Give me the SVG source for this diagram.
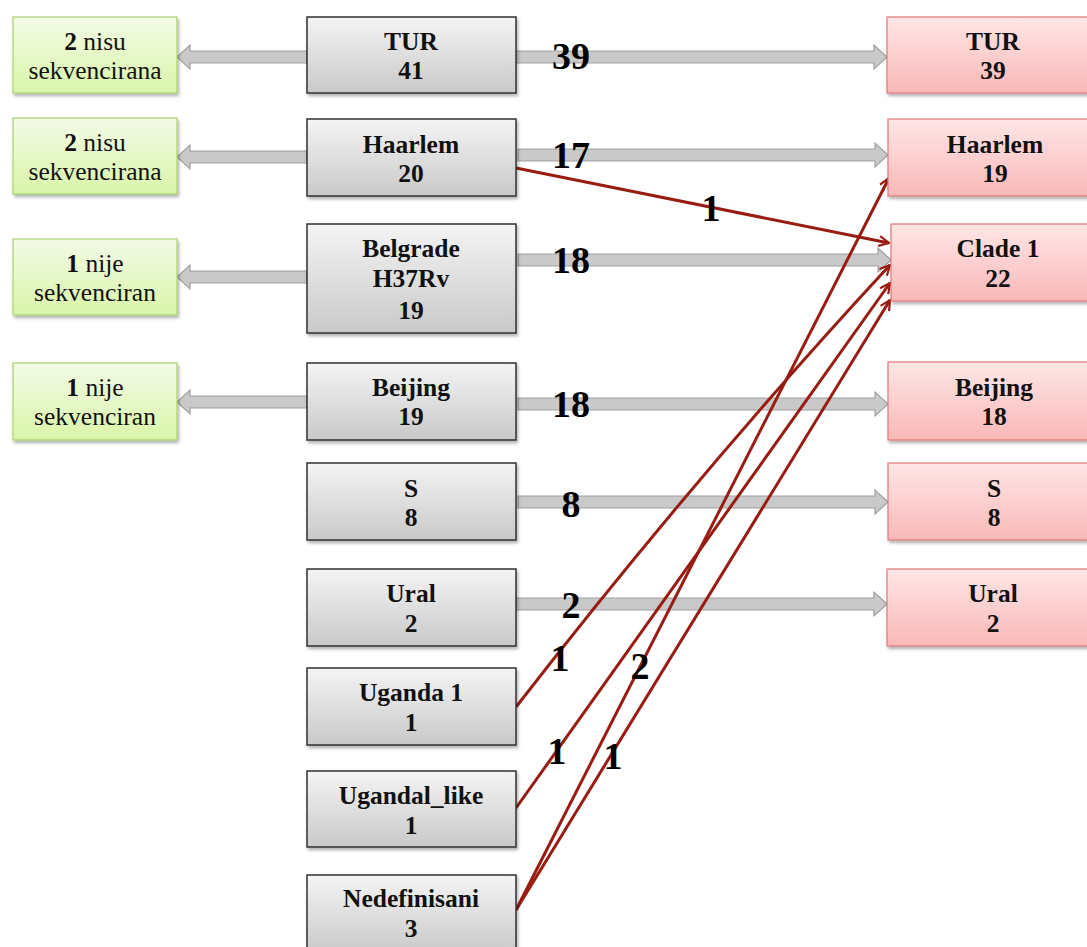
<svg xmlns="http://www.w3.org/2000/svg" width="1087" height="947" viewBox="0 0 1087 947">
<defs>
  <linearGradient id="gGray" x1="0" y1="0" x2="0" y2="1">
    <stop offset="0" stop-color="#f4f4f4"/>
    <stop offset="1" stop-color="#c9c9c9"/>
  </linearGradient>
  <linearGradient id="gGreen" x1="0" y1="0" x2="0" y2="1">
    <stop offset="0" stop-color="#f3fbe6"/>
    <stop offset="1" stop-color="#d9f5a9"/>
  </linearGradient>
  <linearGradient id="gRed" x1="0" y1="0" x2="0" y2="1">
    <stop offset="0" stop-color="#ffe6e6"/>
    <stop offset="1" stop-color="#f9b8b8"/>
  </linearGradient>
  <filter id="sh" x="-10%" y="-10%" width="125%" height="130%">
    <feDropShadow dx="1.5" dy="2.5" stdDeviation="1.5" flood-color="#000" flood-opacity="0.3"/>
  </filter>
  <marker id="redArrow" viewBox="0 0 12 12" refX="11" refY="6" markerWidth="12" markerHeight="12" markerUnits="userSpaceOnUse" orient="auto">
    <path d="M1,1 L11,6 L1,11" fill="none" stroke="#981c12" stroke-width="2.2"/>
  </marker>
  <style>
    .gray { fill: url(#gGray); stroke: #303030; stroke-width: 1.5; filter: url(#sh); }
    .green { fill: url(#gGreen); stroke: #a9d16e; stroke-width: 1.2; filter: url(#sh); }
    .red { fill: url(#gRed); stroke: #e07a7a; stroke-width: 1.2; filter: url(#sh); }
    .lbl { font-family: "Liberation Serif", "Times New Roman", serif; font-weight: bold; font-size: 25.5px; fill: #111; text-anchor: middle; }
    .glbl { font-family: "Liberation Serif", "Times New Roman", serif; font-size: 25.5px; fill: #111; text-anchor: middle; }
    .num { font-family: "Liberation Serif", "Times New Roman", serif; font-weight: bold; font-size: 38px; fill: #000; text-anchor: middle; }
    .blk { fill: #c9c9c9; stroke: #a0a0a0; stroke-width: 1.2; }
    .rl { fill: none; stroke: #981c12; stroke-width: 3; marker-end: url(#redArrow); }
  </style>
</defs>
<rect width="1087" height="947" fill="#ffffff"/>

<g id="connectors">
  <!-- left block arrows -->
  <polygon class="blk" points="307,51 190,51 190,45 177,57 190,69 190,63 307,63"/>
  <polygon class="blk" points="307,151 190,151 190,145 177,157 190,169 190,163 307,163"/>
  <polygon class="blk" points="307,271 190,271 190,265 177,277 190,289 190,283 307,283"/>
  <polygon class="blk" points="307,396 190,396 190,390 177,402 190,414 190,408 307,408"/>
  <!-- right block arrows -->
  <polygon class="blk" points="516,51 874,51 874,45 887,57 874,69 874,63 516,63"/>
  <polygon class="blk" points="518,149 875,149 875,143 888,155 875,167 875,161 518,161"/>
  <polygon class="blk" points="518,254 878,254 878,248 891,260 878,272 878,266 518,266"/>
  <polygon class="blk" points="518,398 875,398 875,392 888,404 875,416 875,410 518,410"/>
  <polygon class="blk" points="518,496 875,496 875,490 888,502 875,514 875,508 518,508"/>
  <polygon class="blk" points="516,598 874,598 874,592 887,604 874,616 874,610 516,610"/>
  <text class="num" x="571" y="69">39</text>
  <text class="num" x="571" y="168">17</text>
  <text class="num" x="571" y="273">18</text>
  <text class="num" x="571" y="417">18</text>
  <text class="num" x="571" y="517">8</text>
  <text class="num" x="571" y="618">2</text>
  <!-- red lines -->
  <path class="rl" d="M516,168 L889,243"/>
  <path class="rl" d="M516,707 Q700,470 890,265"/>
  <path class="rl" d="M516,808 L890,283"/>
  <path class="rl" d="M516,910 L889,178"/>
  <path class="rl" d="M516,910 L890,300"/>
  <text class="num" x="711" y="221">1</text>
  <text class="num" x="560" y="671">1</text>
  <text class="num" x="640" y="679">2</text>
  <text class="num" x="557" y="764">1</text>
  <text class="num" x="613" y="769">1</text>
</g>

<g id="green-tur">
  <rect class="green" x="13" y="17" width="164" height="76"/>
  <text class="glbl" x="95" y="50"><tspan font-weight="bold">2</tspan> nisu</text>
  <text class="glbl" x="95" y="79">sekvencirana</text>
</g>
<g id="green-haarlem">
  <rect class="green" x="13" y="118" width="164" height="76"/>
  <text class="glbl" x="95" y="151"><tspan font-weight="bold">2</tspan> nisu</text>
  <text class="glbl" x="95" y="180">sekvencirana</text>
</g>
<g id="green-belgrade">
  <rect class="green" x="13" y="239" width="164" height="76"/>
  <text class="glbl" x="95" y="272"><tspan font-weight="bold">1</tspan> nije</text>
  <text class="glbl" x="95" y="301">sekvenciran</text>
</g>
<g id="green-beijing">
  <rect class="green" x="13" y="363" width="164" height="77"/>
  <text class="glbl" x="95" y="396"><tspan font-weight="bold">1</tspan> nije</text>
  <text class="glbl" x="95" y="425">sekvenciran</text>
</g>

<g id="gray-tur">
  <rect class="gray" x="307" y="17" width="209" height="76"/>
  <text class="lbl" x="411" y="50">TUR</text>
  <text class="lbl" x="411" y="79">41</text>
</g>
<g id="gray-haarlem">
  <rect class="gray" x="307" y="119" width="209" height="77"/>
  <text class="lbl" x="411" y="153">Haarlem</text>
  <text class="lbl" x="411" y="182">20</text>
</g>
<g id="gray-belgrade">
  <rect class="gray" x="307" y="224" width="209" height="109"/>
  <text class="lbl" x="411" y="257">Belgrade</text>
  <text class="lbl" x="411" y="287">H37Rv</text>
  <text class="lbl" x="411" y="319">19</text>
</g>
<g id="gray-beijing">
  <rect class="gray" x="307" y="363" width="209" height="77"/>
  <text class="lbl" x="411" y="396">Beijing</text>
  <text class="lbl" x="411" y="425">19</text>
</g>
<g id="gray-s">
  <rect class="gray" x="307" y="463" width="209" height="77"/>
  <text class="lbl" x="411" y="497">S</text>
  <text class="lbl" x="411" y="526">8</text>
</g>
<g id="gray-ural">
  <rect class="gray" x="307" y="569" width="209" height="77"/>
  <text class="lbl" x="411" y="602">Ural</text>
  <text class="lbl" x="411" y="632">2</text>
</g>
<g id="gray-uganda1">
  <rect class="gray" x="307" y="668" width="209" height="77"/>
  <text class="lbl" x="411" y="701">Uganda 1</text>
  <text class="lbl" x="411" y="731">1</text>
</g>
<g id="gray-ugandal-like">
  <rect class="gray" x="307" y="771" width="209" height="76"/>
  <text class="lbl" x="411" y="804">Ugandal_like</text>
  <text class="lbl" x="411" y="834">1</text>
</g>
<g id="gray-nedefinisani">
  <rect class="gray" x="307" y="875" width="209" height="80"/>
  <text class="lbl" x="411" y="907">Nedefinisani</text>
  <text class="lbl" x="411" y="937">3</text>
</g>

<g id="red-tur">
  <rect class="red" x="887" y="17" width="212" height="76"/>
  <text class="lbl" x="993" y="50">TUR</text>
  <text class="lbl" x="993" y="79">39</text>
</g>
<g id="red-haarlem">
  <rect class="red" x="888" y="119" width="212" height="77"/>
  <text class="lbl" x="995" y="153">Haarlem</text>
  <text class="lbl" x="995" y="182">19</text>
</g>
<g id="red-clade1">
  <rect class="red" x="891" y="224" width="212" height="77"/>
  <text class="lbl" x="998" y="257">Clade 1</text>
  <text class="lbl" x="998" y="287">22</text>
</g>
<g id="red-beijing">
  <rect class="red" x="888" y="362" width="212" height="78"/>
  <text class="lbl" x="994" y="396">Beijing</text>
  <text class="lbl" x="994" y="425">18</text>
</g>
<g id="red-s">
  <rect class="red" x="888" y="463" width="212" height="77"/>
  <text class="lbl" x="994" y="497">S</text>
  <text class="lbl" x="994" y="526">8</text>
</g>
<g id="red-ural">
  <rect class="red" x="887" y="569" width="212" height="77"/>
  <text class="lbl" x="993" y="602">Ural</text>
  <text class="lbl" x="993" y="632">2</text>
</g>
</svg>
